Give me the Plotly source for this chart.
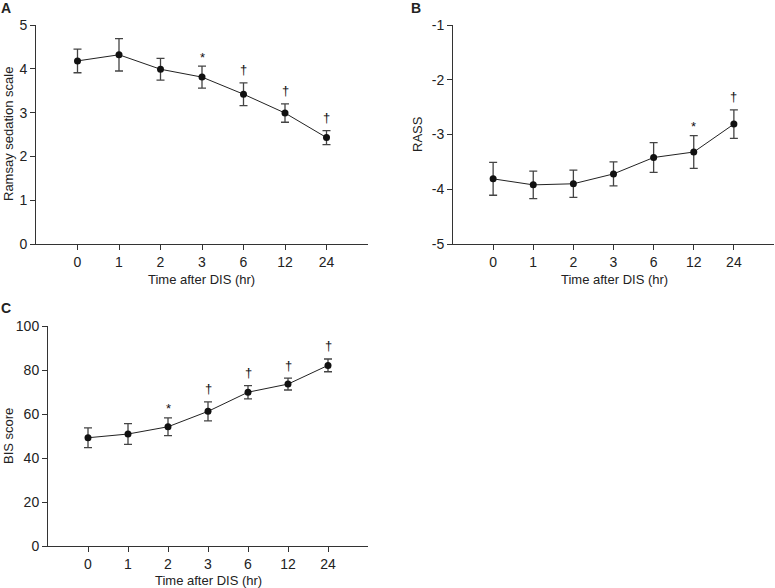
import plotly.graph_objects as go

times = ["0", "1", "2", "3", "6", "12", "24"]

ramsay = [4.18, 4.32, 3.99, 3.81, 3.42, 2.99, 2.43]
ramsay_err = [0.27, 0.37, 0.25, 0.25, 0.26, 0.21, 0.16]
ramsay_sig = ["", "", "", "*", "†", "†", "†"]
ramsay_ticks = [0, 1, 2, 3, 4, 5]

rass = [-3.81, -3.92, -3.90, -3.72, -3.42, -3.32, -2.81]
rass_err = [0.30, 0.25, 0.25, 0.22, 0.27, 0.30, 0.26]
rass_sig = ["", "", "", "", "", "*", "†"]
rass_ticks = [-5, -4, -3, -2, -1]

bis = [49.2, 50.9, 54.2, 61.2, 69.9, 73.6, 82.1]
bis_err = [4.5, 4.7, 4.0, 4.3, 3.0, 2.7, 2.9]
bis_sig = ["", "", "*", "†", "†", "†", "†"]
bis_ticks = [0, 20, 40, 60, 80, 100]

W, H = 775, 588
ink = "#222222"
fam = "Liberation Sans, Arial, sans-serif"
font = dict(family=fam, size=13, color=ink)
tickfont = dict(family=fam, size=14, color=ink)


def px(x):
    return x / W


def py(y):
    return 1 - y / H


panels = [
    # values, errors, marks, y title, y ticks, x domain px, y domain px,
    # y-title centre px, x-title centre px
    (ramsay, ramsay_err, ramsay_sig, "Ramsay sedation scale", ramsay_ticks,
     (36, 368), (25, 244), (8, 134), (202, 279)),
    (rass, rass_err, rass_sig, "RASS", rass_ticks,
     (453, 774), (25, 244), (417, 134), (614, 279)),
    (bis, bis_err, bis_sig, "BIS score", bis_ticks,
     (48, 368), (326, 546), (8, 436), (208, 580)),
]

fig = go.Figure()
annotations = []

for i, (vals, errs, sig, ytitle, yt, xd, yd, yt_pos, xt_pos) in enumerate(panels):
    n = "" if i == 0 else str(i + 1)
    fig.add_trace(go.Scatter(
        x=times, y=vals, xaxis="x" + n, yaxis="y" + n,
        mode="lines+markers",
        line=dict(color=ink, width=1),
        marker=dict(color="#111111", size=7),
        error_y=dict(type="data", array=errs, color="#444444", thickness=1.3, width=4),
        showlegend=False, cliponaxis=False, hoverinfo="skip",
    ))
    # significance marks just above each error bar
    for k, (v, e, s) in enumerate(zip(vals, errs, sig)):
        if s:
            annotations.append(dict(
                x=k, y=v + e, xref="x" + n, yref="y" + n, text=s, showarrow=False,
                yanchor="middle", yshift=9 if s == "*" else 13,
                font=dict(family=fam, size=13, color="#111111"),
            ))
    axis_common = dict(
        showline=True, linecolor="#333333", linewidth=1, ticks="outside",
        ticklen=5, tickcolor="#333333", showgrid=False, zeroline=False,
        tickfont=tickfont, automargin=False,
    )
    fig.layout["xaxis" + n] = dict(
        axis_common, type="category", range=[-1, 7], anchor="y" + n,
        domain=[px(xd[0]), px(xd[1])],
    )
    fig.layout["yaxis" + n] = dict(
        axis_common, range=[yt[0], yt[-1]], anchor="x" + n,
        tickvals=yt, ticktext=[str(t) for t in yt],
        domain=[py(yd[1]), py(yd[0])],
    )
    annotations.append(dict(
        x=px(yt_pos[0]), y=py(yt_pos[1]), xref="paper", yref="paper", text=ytitle,
        textangle=-90, showarrow=False, xanchor="center", yanchor="middle", font=font,
    ))
    annotations.append(dict(
        x=px(xt_pos[0]), y=py(xt_pos[1]), xref="paper", yref="paper",
        text="Time after DIS (hr)", showarrow=False, xanchor="center",
        yanchor="middle", font=font,
    ))

for letter, x, y in [("A", 6, 8), ("B", 416, 8), ("C", 6, 308)]:
    annotations.append(dict(
        x=px(x), y=py(y), xref="paper", yref="paper", text="<b>" + letter + "</b>",
        showarrow=False, xanchor="center", yanchor="middle",
        font=dict(family=fam, size=14, color=ink),
    ))

fig.update_layout(
    template="none",
    width=W, height=H,
    margin=dict(l=0, r=0, t=0, b=0),
    paper_bgcolor="white", plot_bgcolor="white",
    font=font,
    annotations=annotations,
    hovermode=False,
)

# page has a default 8px body margin; drop it so the figure sits at 0,0
fig.write_html("out.html", config={"displayModeBar": False},
               post_script="document.body.style.margin='0';")
